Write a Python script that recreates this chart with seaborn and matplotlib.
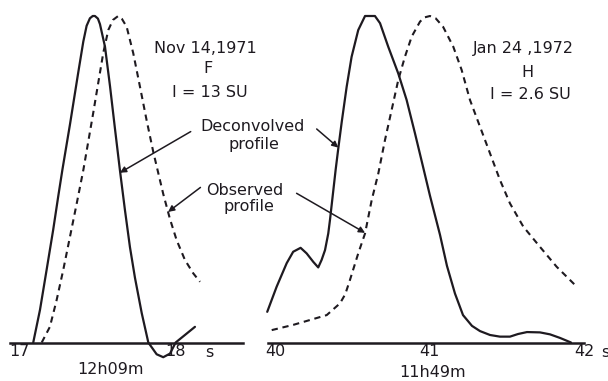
import matplotlib
matplotlib.use("Agg")
import matplotlib.pyplot as plt
import seaborn as sns
import pandas as pd

# ---- Nov 14, 1971 (event F), time in seconds after 12h09m ----
nov_decon_t = [17.091, 17.134, 17.176, 17.218, 17.250, 17.277, 17.325, 17.378, 17.410,
               17.431, 17.452, 17.470, 17.484, 17.503, 17.516, 17.548, 17.580, 17.611,
               17.643, 17.675, 17.707, 17.739, 17.782, 17.824, 17.877, 17.919, 17.962,
               17.998, 18.057, 18.121]
nov_decon_i = [0.0, 0.100, 0.222, 0.345, 0.447, 0.530, 0.668, 0.828, 0.922,
               0.970, 0.993, 1.0, 1.0, 0.992, 0.975, 0.906, 0.785, 0.657,
               0.528, 0.406, 0.292, 0.198, 0.090, 0.0, -0.036, -0.045, -0.034,
               0.0, 0.023, 0.048]

nov_obs_t = [17.145, 17.197, 17.240, 17.282, 17.325, 17.368, 17.410, 17.441, 17.473,
             17.505, 17.537, 17.569, 17.599, 17.632, 17.656, 17.686, 17.728, 17.771,
             17.813, 17.855, 17.877, 17.919, 17.962, 18.004, 18.057, 18.110, 18.153]
nov_obs_i = [0.0, 0.048, 0.130, 0.222, 0.324, 0.426, 0.528, 0.614, 0.703,
             0.795, 0.887, 0.957, 0.988, 1.0, 0.991, 0.967, 0.886, 0.783,
             0.681, 0.585, 0.540, 0.455, 0.378, 0.314, 0.253, 0.212, 0.186]

# ---- Jan 24, 1972 (event H), time in seconds after 11h49m ----
jan_decon_t = [39.950, 40.011, 40.076, 40.118, 40.166, 40.205, 40.248, 40.280, 40.302,
               40.324, 40.345, 40.356, 40.393, 40.410, 40.432, 40.464, 40.496, 40.539,
               40.583, 40.647, 40.680, 40.733, 40.798, 40.852, 40.906, 40.960, 41.003,
               41.068, 41.113, 41.165, 41.217, 41.275, 41.327, 41.392, 41.456, 41.521,
               41.573, 41.631, 41.715, 41.780, 41.845, 41.916]
jan_decon_i = [0.094, 0.171, 0.243, 0.278, 0.290, 0.273, 0.247, 0.230, 0.253,
               0.283, 0.334, 0.375, 0.530, 0.595, 0.675, 0.783, 0.875, 0.957,
               1.0, 1.0, 0.978, 0.906, 0.824, 0.743, 0.641, 0.535, 0.450,
               0.330, 0.235, 0.150, 0.084, 0.051, 0.035, 0.023, 0.018, 0.018,
               0.026, 0.032, 0.031, 0.025, 0.014, 0.0]

jan_obs_t = [39.979, 40.118, 40.227, 40.335, 40.421, 40.455, 40.485, 40.539, 40.583,
             40.626, 40.669, 40.712, 40.755, 40.798, 40.841, 40.885, 40.939, 40.970,
             41.003, 41.040, 41.088, 41.154, 41.208, 41.262, 41.327, 41.392, 41.456,
             41.521, 41.607, 41.715, 41.823, 41.953]
jan_obs_i = [0.038, 0.054, 0.069, 0.084, 0.120, 0.148, 0.191, 0.273, 0.334,
             0.436, 0.518, 0.620, 0.712, 0.804, 0.875, 0.937, 0.983, 0.996,
             1.0, 0.993, 0.967, 0.906, 0.835, 0.743, 0.661, 0.579, 0.498,
             0.426, 0.355, 0.293, 0.232, 0.171]

nov_ticks = [17, 18]
nov_tick_labels = ["17", "18"]
jan_ticks = [40, 41, 42]
jan_tick_labels = ["40", "41", "42"]

sns.set_style("white")
plt.rcParams["font.family"] = ["DejaVu Sans"]

INK = "#1e1a20"
FS = 11.5

W, H = 608, 381
fig = plt.figure(figsize=(W / 100, H / 100), dpi=100)
ax_l = fig.add_axes([10 / W, 6 / H, 233 / W, 370 / H])
ax_r = fig.add_axes([268 / W, 6 / H, 316 / W, 370 / H])


def draw_profiles(ax, t_dec, i_dec, t_obs, i_obs):
    dec = pd.DataFrame({"t": t_dec, "i": i_dec})
    obs = pd.DataFrame({"t": t_obs, "i": i_obs})
    sns.lineplot(data=dec, x="t", y="i", ax=ax, color=INK, lw=1.6,
                 estimator=None, sort=False, clip_on=False,
                 solid_joinstyle="round")
    sns.lineplot(data=obs, x="t", y="i", ax=ax, color=INK, lw=1.5,
                 estimator=None, sort=False, clip_on=False,
                 linestyle=(0, (3.0, 2.3)))


def style_axis(ax, xlim, ticks, labels):
    ax.set_xlim(*xlim)
    ax.set_ylim(-0.0995, 1.0337)
    for side in ("top", "left", "right"):
        ax.spines[side].set_visible(False)
    ax.spines["bottom"].set_position(("data", 0))
    ax.spines["bottom"].set_linewidth(1.8)
    ax.spines["bottom"].set_color(INK)
    ax.set_xticks(ticks)
    ax.set_xticklabels(labels)
    ax.set_yticks([])
    ax.tick_params(axis="x", direction="in", length=4.5, width=1.1,
                   color=INK, labelcolor=INK, labelsize=FS, pad=1)
    ax.set_xlabel("")
    ax.set_ylabel("")
    ax.patch.set_alpha(0)


draw_profiles(ax_l, nov_decon_t, nov_decon_i, nov_obs_t, nov_obs_i)
draw_profiles(ax_r, jan_decon_t, jan_decon_i, jan_obs_t, jan_obs_i)
style_axis(ax_l, (16.943, 18.427), nov_ticks, nov_tick_labels)
style_axis(ax_r, (39.955, 42.0), jan_ticks, jan_tick_labels)

txt = dict(color=INK, fontsize=FS, ha="center", va="center", clip_on=False)

# event annotations
ax_l.text(18.185, 0.902, "Nov 14,1971", **txt)
ax_l.text(18.204, 0.838, "F", **txt)
ax_l.text(18.217, 0.767, "I = 13 SU", **txt)
ax_r.text(41.605, 0.899, "Jan 24 ,1972", **txt)
ax_r.text(41.631, 0.828, "H", **txt)
ax_r.text(41.650, 0.761, "I = 2.6 SU", **txt)

# curve labels
ax_l.text(18.490, 0.663, "Deconvolved", **txt)
ax_l.text(18.497, 0.605, "profile", **txt)
ax_l.text(18.439, 0.467, "Observed", **txt)
ax_l.text(18.465, 0.418, "profile", **txt)

arrow = dict(arrowstyle="-|>", color=INK, lw=1.1, mutation_scale=9,
             shrinkA=0, shrinkB=0)
ax_l.annotate("", xy=(17.643, 0.52), xytext=(18.094, 0.646),
              arrowprops=arrow, annotation_clip=False)
ax_l.annotate("", xy=(17.95, 0.40), xytext=(18.156, 0.475),
              arrowprops=arrow, annotation_clip=False)
ax_r.annotate("", xy=(40.410, 0.597), xytext=(40.270, 0.654),
              arrowprops=arrow, annotation_clip=False)
ax_r.annotate("", xy=(40.583, 0.336), xytext=(40.140, 0.457),
              arrowprops=arrow, annotation_clip=False)

# units and reference times
ax_l.text(18.210, -0.032, "s", **txt)
ax_r.text(42.136, -0.032, "s", **txt)
ax_l.text(17.580, -0.084, "12h09m", **txt)
ax_r.text(41.023, -0.093, "11h49m", **txt)

fig.savefig("out.png", dpi=100)
